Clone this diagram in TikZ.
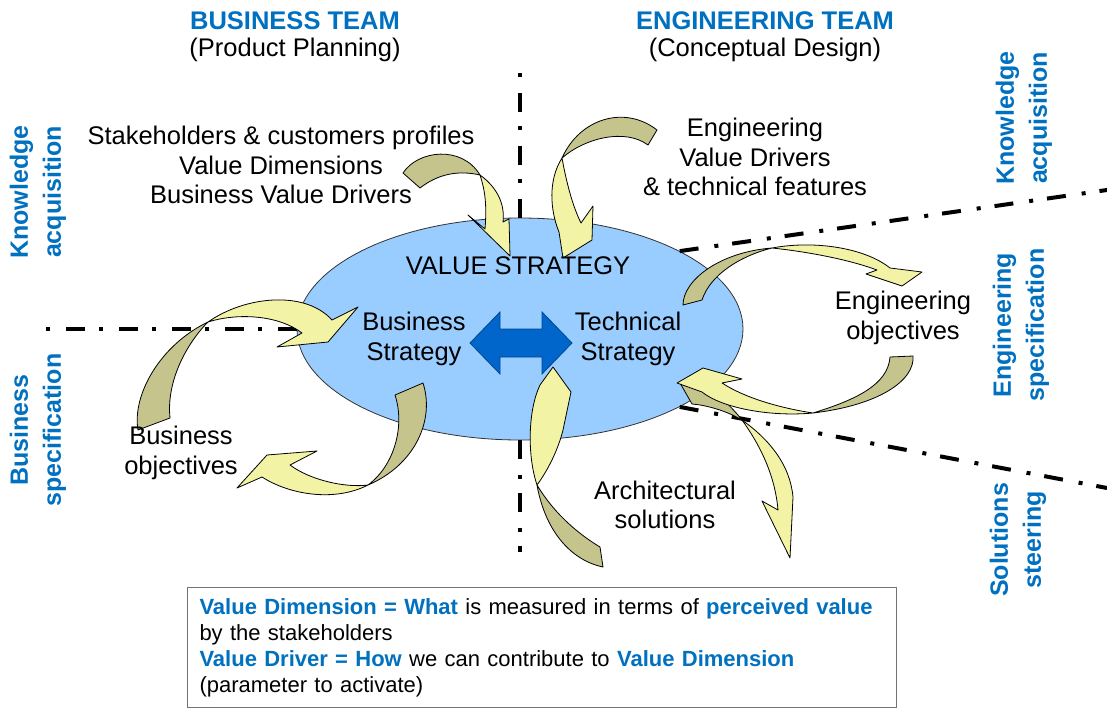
\documentclass[tikz,border=0pt]{standalone}
\usepackage{fontspec}
\setmainfont{Liberation Sans}
\usetikzlibrary{shapes.geometric}
\definecolor{team-blue}{RGB}{0,112,192}
\definecolor{oval-blue}{RGB}{153,204,255}
\definecolor{link-blue}{RGB}{0,102,204}
\definecolor{band-olive}{RGB}{196,196,140}
\definecolor{band-yellow}{RGB}{243,243,166}
\newcommand{\keyword}[1]{\textcolor{team-blue}{\bfseries #1}}
\tikzset{
    team-title/.style = {text=team-blue, font=\fontsize{25.5}{29}\selectfont\bfseries},
    team-phase/.style = {font=\fontsize{25.5}{29}\selectfont},
    side-label/.style = {text=team-blue, rotate=90, align=center, inner sep=0pt, font=\fontsize{25}{33}\selectfont\bfseries},
    plain-label/.style = {align=center, inner sep=0pt, font=\fontsize{25.5}{29.5}\selectfont},
    split-line/.style = {line width=4pt, dash pattern=on 19pt off 16pt on 4pt off 14pt},
    band-back/.style = {fill=band-olive, draw=black, line width=0.8pt, line join=round},
    band-front/.style = {fill=band-yellow, draw=black, line width=0.8pt, line join=round},
    strategy-oval/.style = {ellipse, draw=black!80, fill=oval-blue, line width=0.8pt, minimum width=446pt, minimum height=222pt, inner sep=0pt},
    strategy-link/.style = {fill=link-blue, draw=link-blue!70!black, line width=0.8pt},
    note-box/.style = {draw=black!55, line width=1pt, align=left, text width=685pt, minimum height=120pt, inner xsep=12pt, font=\fontsize{22}{26}\selectfont},
}

\begin{document}
\begin{tikzpicture}[x=1pt, y=-1pt]
\useasboundingbox (0,0) rectangle (1107,709);

% team headers
\node[team-title] (biz-team) at (295,21) {BUSINESS TEAM};
\node[team-phase] (biz-phase) at (295,50) {(Product Planning)};
\node[team-title] (eng-team) at (765,21) {ENGINEERING TEAM};
\node[team-phase] (eng-phase) at (765,50) {(Conceptual Design)};

% phase labels at the sides
\node[side-label] (biz-knowledge) at (38,192) {Knowledge\\acquisition};
\node[side-label] (biz-spec) at (38,430) {Business\\specification};
\node[side-label] (eng-knowledge) at (1024,118) {Knowledge\\acquisition};
\node[side-label] (eng-spec) at (1021,325) {Engineering\\specification};
\node[side-label] (eng-steering) at (1018,540) {Solutions\\steering};

% the oval and the split lines
\coordinate (top-end) at (520,65);
\coordinate (bottom-end) at (520,552);
\coordinate (left-end) at (45,329);
\coordinate (upper-end) at (1107,190);
\coordinate (lower-end) at (1107,488);
\node[strategy-oval] (oval) at (520,329) {};
\draw[split-line] (oval.north) -- (top-end);
\draw[split-line] (oval.south) -- (bottom-end);
\draw[split-line] (oval.west) -- (left-end);
\draw[split-line] (oval.26) -- (upper-end);
\draw[split-line] (oval.-26) -- (lower-end);

% curved arrows
\draw[band-back] (403,173) .. controls (418,150) and (462,145) .. (480,175) .. controls (458,170) and (438,174) .. (420,188) -- cycle;
\draw[band-front] (480,175) .. controls (498,188) and (505,205) .. (503,222) -- (509,219) -- (510,256) -- (468,215) -- (485,229) .. controls (487,205) and (485,190) .. (480,175) -- cycle;

\draw[band-back] (657,130) .. controls (625,105) and (580,118) .. (562,158) .. controls (585,138) and (625,128) .. (648,145) -- cycle;
\draw[band-front] (562,158) .. controls (566,180) and (572,205) .. (581,223) -- (593,206) -- (592,240) -- (563,258) -- (559,232) .. controls (550,210) and (548,180) .. (562,158) -- cycle;

\draw[band-back] (138,430) .. controls (132,395) and (160,345) .. (208,322) .. controls (188,342) and (166,380) .. (170,418) -- cycle;
\draw[band-front] (208,322) .. controls (245,296) and (305,290) .. (332,320) -- (358,307) -- (328,342) -- (277,347) -- (302,333) .. controls (280,316) and (240,312) .. (208,322) -- cycle;

\draw[band-back] (423,383) .. controls (435,420) and (415,465) .. (368,485) .. controls (395,465) and (405,425) .. (395,395) -- cycle;
\draw[band-front] (368,485) .. controls (335,502) and (290,495) .. (262,477) -- (237,488) -- (267,455) -- (317,451) -- (290,465) .. controls (310,480) and (345,488) .. (368,485) -- cycle;

\draw[band-back] (683,305) .. controls (683,280) and (720,252) .. (772,248) .. controls (740,256) and (710,275) .. (702,300) -- cycle;
\draw[band-front] (772,248) .. controls (815,240) and (865,248) .. (890,268) -- (922,272) -- (902,286) -- (866,274) -- (877,270) .. controls (850,260) and (810,252) .. (772,248) -- cycle;

\draw[band-back] (603,567) .. controls (570,560) and (545,530) .. (537,485) .. controls (555,515) and (580,535) .. (600,547) -- cycle;
\draw[band-front] (537,485) .. controls (527,455) and (528,410) .. (540,385) -- (553,367) -- (571,392) -- (563,430) .. controls (558,450) and (548,470) .. (537,485) -- cycle;

\draw[band-back] (680,383) -- (698,381) .. controls (712,390) and (728,402) .. (742,420) .. controls (725,410) and (705,405) .. (692,404) -- cycle;
\draw[band-front] (742,420) .. controls (770,440) and (790,465) .. (793,497) -- (790,558) -- (762,501) -- (778,510) .. controls (775,475) and (760,445) .. (742,420) -- cycle;

\draw[band-back] (913,356) .. controls (915,380) and (880,405) .. (813,413) .. controls (855,400) and (888,385) .. (890,357) -- cycle;
\draw[band-front] (813,413) .. controls (770,417) and (722,408) .. (702,392) -- (677,383) -- (703,368) -- (742,379) -- (722,383) .. controls (745,398) and (780,408) .. (813,413) -- cycle;

% link between the two strategies
\draw[strategy-link] (470,343) -- (500,312) -- (500,329) -- (542,329) -- (542,312) -- (572,343) -- (542,374) -- (542,357) -- (500,357) -- (500,374) -- cycle;

% texts
\node[plain-label] (value-strategy) at (518,266) {VALUE STRATEGY};
\node[plain-label] (biz-strategy) at (414,339) {Business\\Strategy};
\node[plain-label] (tech-strategy) at (628,339) {Technical\\Strategy};
\node[plain-label] (biz-inputs) at (281,165) {Stakeholders \& customers profiles\\Value Dimensions\\Business Value Drivers};
\node[plain-label] (eng-inputs) at (755,157) {Engineering\\Value Drivers\\\& technical features};
\node[plain-label] (eng-objectives) at (903,318) {Engineering\\objectives};
\node[plain-label] (biz-objectives) at (181,453) {Business\\objectives};
\node[plain-label] (arch-solutions) at (665,505) {Architectural\\solutions};

% definitions
\node[note-box, anchor=north west] (legend) at (187,587) {\keyword{Value Dimension = What} is measured in terms of \keyword{perceived value}\\
by the stakeholders\\
\keyword{Value Driver = How} we can contribute to \keyword{Value Dimension}\\
(parameter to activate)};
\end{tikzpicture}
\end{document}
